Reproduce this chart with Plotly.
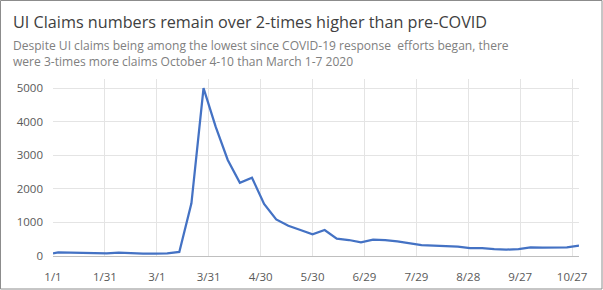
import plotly.graph_objects as go

# ---- data (weekly UI claims) ----
week_dates = [
    "2020-01-01", "2020-01-04", "2020-01-11", "2020-01-18", "2020-01-25",
    "2020-02-01", "2020-02-08", "2020-02-15", "2020-02-22", "2020-02-29",
    "2020-03-07", "2020-03-14", "2020-03-21", "2020-03-28", "2020-04-04",
    "2020-04-11", "2020-04-18", "2020-04-25", "2020-05-02", "2020-05-09",
    "2020-05-16", "2020-05-23", "2020-05-30", "2020-06-06", "2020-06-13",
    "2020-06-20", "2020-06-27", "2020-07-04", "2020-07-11", "2020-07-18",
    "2020-07-25", "2020-08-01", "2020-08-08", "2020-08-15", "2020-08-22",
    "2020-08-29", "2020-09-05", "2020-09-12", "2020-09-19", "2020-09-26",
    "2020-10-03", "2020-10-10", "2020-10-17", "2020-10-24", "2020-10-31",
]
claims = [
    80, 105, 100, 85, 70,
    75, 100, 75, 70, 70,
    75, 120, 1570, 5000, 3850,
    2860, 2180, 2330, 1550, 1090,
    900, 775, 645, 775, 516,
    476, 407, 486, 476, 437,
    387, 327, 307, 298, 278,
    238, 238, 208, 188, 208,
    258, 248, 248, 258, 307,
]
tick_dates = ["2020-01-01", "2020-01-31", "2020-03-01", "2020-03-31", "2020-04-30",
              "2020-05-30", "2020-06-29", "2020-07-29", "2020-08-28", "2020-09-27",
              "2020-10-27"]
tick_labels = ["1/1", "1/31", "3/1", "3/31", "4/30", "5/30", "6/29", "7/29",
               "8/28", "9/27", "10/27"]
y_ticks = [0, 1000, 2000, 3000, 4000, 5000]

title_text = "UI Claims numbers remain over 2-times higher than pre-COVID"
subtitle_text = ("Despite UI claims being among the lowest since COVID-19 response  efforts began, there"
                 "<br>were 3-times more claims October 4-10 than March 1-7 2020")

# ---- layout geometry ----
W, H = 603, 290
L, R, T, B = 53, 24, 79, 34
PW, PH = W - L - R, H - T - B


def px(x):
    return (x - L) / PW


def py(y):
    return (H - B - y) / PH


FONT = "Open Sans"

fig = go.Figure()
fig.add_trace(go.Scatter(
    x=week_dates, y=claims, mode="lines",
    line=dict(color="#4472C4", width=2.25),
    hoverinfo="x+y",
))

fig.update_layout(
    width=W, height=H,
    margin=dict(l=L, r=R, t=T, b=B, pad=0),
    paper_bgcolor="white", plot_bgcolor="white",
    showlegend=False,
    font=dict(family=FONT, color="#595959"),
    xaxis=dict(
        type="date",
        range=["2020-01-01", "2020-10-31"],
        tickvals=tick_dates, ticktext=tick_labels,
        showgrid=True, gridcolor="#e4e4e4", gridwidth=1,
        showline=True, linecolor="#bfbfbf", linewidth=1,
        zeroline=False, ticks="", automargin=False,
        tickfont=dict(size=11.5, color="#595959", family=FONT),
        ticklabelstandoff=10,
    ),
    yaxis=dict(
        range=[0, 5270],
        tickvals=y_ticks,
        showgrid=True, gridcolor="#e4e4e4", gridwidth=1,
        showline=False, zeroline=False, ticks="", automargin=False,
        tickfont=dict(size=11.5, color="#595959", family=FONT),
        ticklabelstandoff=9,
    ),
    annotations=[
        dict(text=title_text, xref="paper", yref="paper",
             x=px(11), y=py(22), xanchor="left", yanchor="middle",
             showarrow=False, font=dict(size=16.2, color="#404040", family=FONT)),
        dict(text=subtitle_text, xref="paper", yref="paper",
             x=px(11), y=py(53), xanchor="left", yanchor="middle", align="left",
             showarrow=False, font=dict(size=12.05, color="#808080", family=FONT)),
    ],
    shapes=[
        dict(type="rect", xref="paper", yref="paper",
             x0=px(0.5), x1=px(602.0), y0=py(289.0), y1=py(0.5),
             line=dict(color="#8c8c8c", width=1), fillcolor="rgba(0,0,0,0)",
             layer="above"),
    ],
)

fig.write_html("out.html")
